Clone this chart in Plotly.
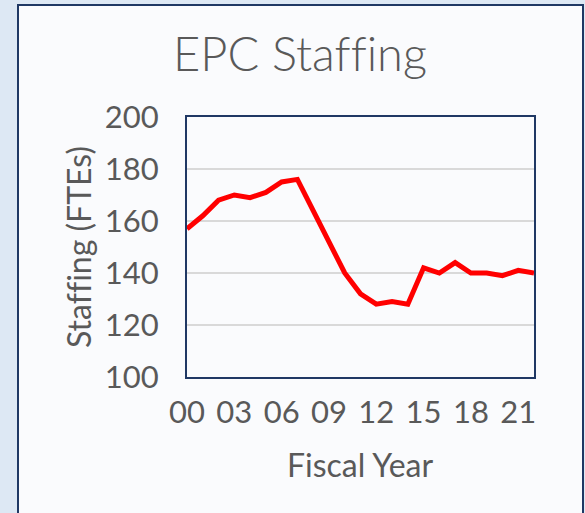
import plotly.graph_objects as go

years = list(range(0, 23))
staffing = [157, 162, 168, 170, 169, 171, 175, 176, 164, 152, 140, 132, 128,
            129, 128, 142, 140, 144, 140, 140, 139, 141, 140]
tick_vals = [0, 3, 6, 9, 12, 15, 18, 21]
tick_text = ["00", "03", "06", "09", "12", "15", "18", "21"]

FONT = "Lato"
GRAY = "#595959"
NAVY = "#1f3864"
INNER = "#fafbfd"
ZW = "\u200c"

fig = go.Figure()
fig.add_trace(go.Scatter(x=years, y=staffing, mode="lines",
                         line=dict(color="#ff0000", width=5),
                         hoverinfo="skip", showlegend=False))

fig.update_layout(
    width=585, height=513,
    margin=dict(l=187, r=51, t=117, b=136),
    paper_bgcolor="#dde8f4",
    plot_bgcolor=INNER,
    font=dict(family=FONT, color=GRAY),
    shapes=[dict(type="rect", xref="paper", yref="paper",
                 x0=(18 - 187) / 347, x1=(583 - 187) / 347,
                 y0=(377 - 520) / 260, y1=(377 - 5) / 260,
                 line=dict(color=NAVY, width=2), fillcolor=INNER,
                 layer="below")],
    annotations=[
        dict(text="EPC Staf" + ZW + "f" + ZW + "ing", xref="paper", yref="paper",
             x=0.327, y=1.246, xanchor="center", yanchor="middle",
             showarrow=False,
             font=dict(size=47, color=GRAY, family=FONT, weight=300)),
        dict(text="Staf" + ZW + "f" + ZW + "ing (FTEs)", xref="paper", yref="paper",
             x=-0.314, y=0.5, xanchor="center", yanchor="middle",
             textangle=-90, showarrow=False,
             font=dict(size=32, color=GRAY, family=FONT)),
        dict(text="Fiscal Year", xref="paper", yref="paper",
             x=0.5, y=-0.335, xanchor="center", yanchor="middle",
             showarrow=False, font=dict(size=32, color=GRAY, family=FONT)),
    ],
)
fig.update_xaxes(range=[0, 22], tickvals=tick_vals, ticktext=tick_text,
                 showgrid=False, zeroline=False, showline=True, mirror=True,
                 linecolor=NAVY, linewidth=2, ticks="",
                 tickfont=dict(size=31, color=GRAY, family=FONT),
                 ticklabelstandoff=7)
fig.update_yaxes(range=[100, 200], dtick=20, showgrid=True,
                 gridcolor="#d9d9d9", gridwidth=1.5, zeroline=False,
                 showline=True, mirror=True, linecolor=NAVY, linewidth=2,
                 ticks="", tickfont=dict(size=31, color=GRAY, family=FONT),
                 ticklabelstandoff=20)

fig.write_html("out.html", config={"displayModeBar": False},
               post_script="document.body.style.margin='0';document.body.style.padding='0';")
